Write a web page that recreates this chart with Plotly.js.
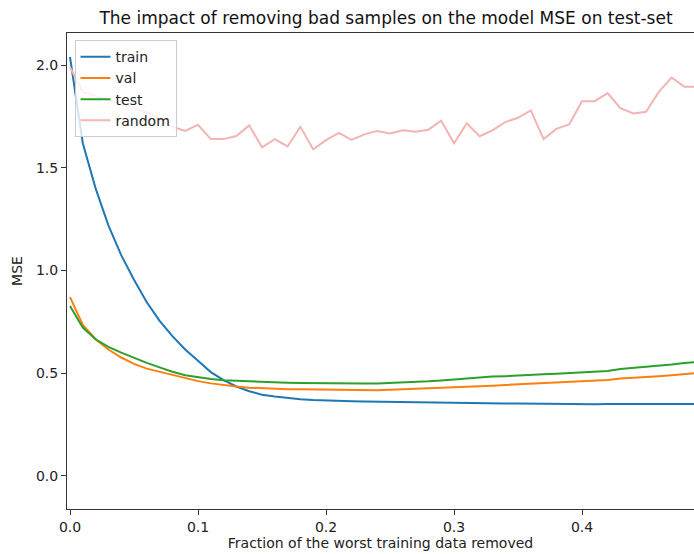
<!DOCTYPE html>
<html>
<head>
<meta charset="utf-8">
<script src="https://cdn.plot.ly/plotly-3.0.1.min.js"></script>
<style>html,body{margin:0;padding:0;background:#fff;}#chart{width:694px;height:554px;}</style>
</head>
<body>
<div id="chart"></div>
<script>
const fraction = [0.00,0.01,0.02,0.03,0.04,0.05,0.06,0.07,0.08,0.09,
  0.10,0.11,0.12,0.13,0.14,0.15,0.16,0.17,0.18,0.19,
  0.20,0.21,0.22,0.23,0.24,0.25,0.26,0.27,0.28,0.29,
  0.30,0.31,0.32,0.33,0.34,0.35,0.36,0.37,0.38,0.39,
  0.40,0.41,0.42,0.43,0.44,0.45,0.46,0.47,0.48,0.49];

const trainMSE = [2.04,1.62,1.40,1.22,1.075,0.955,0.845,0.755,0.680,0.615,
  0.560,0.505,0.466,0.435,0.412,0.395,0.386,0.378,0.373,0.369,
  0.366,0.364,0.363,0.362,0.361,0.360,0.359,0.358,0.356,0.354,
  0.353,0.353,0.352,0.353,0.352,0.352,0.351,0.352,0.351,0.350,
  0.349,0.348,0.349,0.349,0.350,0.352,0.351,0.350,0.350,0.350];

const valMSE = [0.870,0.735,0.665,0.615,0.576,0.545,0.522,0.506,0.490,0.476,
  0.461,0.450,0.441,0.435,0.429,0.426,0.424,0.422,0.421,0.420,
  0.419,0.418,0.417,0.416,0.417,0.419,0.421,0.423,0.425,0.428,
  0.430,0.433,0.436,0.439,0.442,0.446,0.449,0.452,0.456,0.460,
  0.463,0.465,0.467,0.474,0.477,0.480,0.485,0.490,0.496,0.501];

const testMSE = [0.827,0.722,0.665,0.628,0.600,0.574,0.550,0.528,0.507,0.490,
  0.480,0.471,0.465,0.462,0.459,0.456,0.455,0.453,0.452,0.451,
  0.451,0.450,0.450,0.450,0.450,0.452,0.455,0.458,0.460,0.464,
  0.469,0.474,0.480,0.483,0.485,0.487,0.490,0.494,0.497,0.501,
  0.504,0.507,0.510,0.520,0.525,0.530,0.536,0.542,0.549,0.555];

const randomMSE = [1.99,1.87,1.85,1.83,1.81,1.79,1.77,1.74,1.70,1.68,
  1.71,1.64,1.64,1.655,1.707,1.60,1.64,1.605,1.70,1.59,
  1.635,1.67,1.636,1.663,1.68,1.668,1.683,1.676,1.686,1.73,
  1.62,1.717,1.654,1.683,1.723,1.744,1.78,1.64,1.69,1.712,
  1.825,1.825,1.864,1.791,1.765,1.773,1.87,1.94,1.895,1.895];

const seriesNames = ['train','val','test','random'];
const seriesColors = ['#1f77b4','#ff7f0e','#2ca02c','#f4b4b4'];
const seriesData = [trainMSE, valMSE, testMSE, randomMSE];

const traces = seriesNames.map((name, i) => ({
  x: fraction, y: seriesData[i], type: 'scatter', mode: 'lines', name: name,
  line: {color: seriesColors[i], width: 2}
}));

const axisFont = {family: 'DejaVu Sans', size: 14, color: '#222'};

const layout = {
  width: 694, height: 554,
  margin: {l: 67, r: 0, t: 33, b: 45, pad: 0},
  paper_bgcolor: '#fff', plot_bgcolor: '#fff',
  font: axisFont,
  title: {text: 'The impact of removing bad samples on the model MSE on test-set',
    font: {family: 'DejaVu Sans', size: 17, color: '#111'},
    xref: 'container', x: 386/694, xanchor: 'center',
    yref: 'container', y: 1 - 18/554, yanchor: 'middle'},
  xaxis: {range: [-0.00234, 0.4875], tickvals: [0,0.1,0.2,0.3,0.4], tickformat: '.1f',
    showgrid: false, zeroline: false, showline: true, linecolor: '#333', linewidth: 1,
    mirror: true, ticks: 'outside', ticklen: 5, tickcolor: '#333', tickfont: axisFont,
    title: {text: 'Fraction of the worst training data removed', font: axisFont, standoff: 4}},
  yaxis: {range: [-0.162, 2.157], tickvals: [0,0.5,1.0,1.5,2.0], tickformat: '.1f',
    showgrid: false, zeroline: false, showline: true, linecolor: '#333', linewidth: 1,
    ticks: 'outside', ticklen: 5, tickcolor: '#333', tickfont: axisFont,
    title: {text: 'MSE', font: axisFont, standoff: 10}},
  legend: {x: 0.012, y: 0.985, xanchor: 'left', yanchor: 'top',
    bgcolor: 'rgba(255,255,255,0.8)', bordercolor: '#cccccc', borderwidth: 1,
    font: {family: 'DejaVu Sans', size: 14, color: '#222'}},
  showlegend: true
};

Plotly.newPlot('chart', traces, layout, {displayModeBar: false, staticPlot: true});
</script>
</body>
</html>
